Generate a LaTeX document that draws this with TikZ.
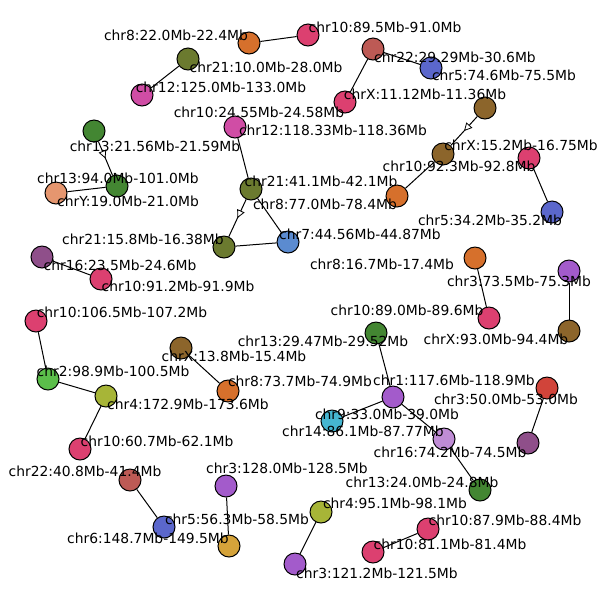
\documentclass[tikz,border=0pt]{standalone}
\usepackage{fontspec}
\setmainfont{DejaVu Sans}
\usetikzlibrary{arrows.meta, decorations.markings}

\definecolor{olive21}{HTML}{6B7A2F}
\definecolor{orange8}{HTML}{D6702C}
\definecolor{crimson10}{HTML}{DC4070}
\definecolor{magenta12}{HTML}{D04DA5}
\definecolor{brick22}{HTML}{BD5A55}
\definecolor{blue5}{HTML}{5B67CC}
\definecolor{brownX}{HTML}{8C652B}
\definecolor{green13}{HTML}{438632}
\definecolor{salmonY}{HTML}{E5966F}
\definecolor{steel7}{HTML}{5B8BD0}
\definecolor{plum16}{HTML}{8F4F8A}
\definecolor{violet3}{HTML}{A35BCB}
\definecolor{lime2}{HTML}{5BBE4A}
\definecolor{yellow4}{HTML}{A7B537}
\definecolor{red3}{HTML}{D1443A}
\definecolor{cyan9}{HTML}{45B6D1}
\definecolor{lilac14}{HTML}{BF8CD5}
\definecolor{gold6}{HTML}{D5A33A}

\tikzset{
  region/.style={circle, draw=black, line width=0.75pt, minimum size=16.5pt, inner sep=0pt, fill=#1},
  lbl/.style={inner sep=0pt, font=\fontsize{10.4}{12}\selectfont},
  link/.style={line width=0.75pt},
  dirlink/.style={line width=0.75pt, decoration={markings,
      mark=at position 0.5 with {\arrow{Triangle[fill=white, length=6pt, width=6pt, line width=0.6pt]}}},
      postaction={decorate}}
}

\begin{document}
\begin{tikzpicture}[x=0.75pt, y=-0.75pt]
\useasboundingbox (0,0) rectangle (605,601);
% regions
\node[region=olive21] (c21a) at (188,59) {};
\node[region=orange8] (c8a) at (249,43) {};
\node[region=crimson10] (c10a) at (308,35) {};
\node[region=magenta12] (c12a) at (142,95) {};
\node[region=brick22] (c22a) at (373,49) {};
\node[region=blue5] (c5a) at (431,68) {};
\node[region=crimson10] (c10b) at (345,102) {};
\node[region=brownX] (cXa) at (485,108) {};
\node[region=green13] (c13a) at (94,131) {};
\node[region=magenta12] (c12b) at (235,127) {};
\node[region=brownX] (cXb) at (443,154) {};
\node[region=crimson10] (c10c) at (529,158) {};
\node[region=green13] (c13b) at (117,186) {};
\node[region=salmonY] (cY) at (56,193) {};
\node[region=olive21] (c21b) at (251,189) {};
\node[region=orange8] (c8b) at (397,196) {};
\node[region=blue5] (c5b) at (552,212) {};
\node[region=olive21] (c21c) at (224,247) {};
\node[region=steel7] (c7) at (288,242) {};
\node[region=plum16] (c16a) at (42,257) {};
\node[region=crimson10] (c10d) at (101,279) {};
\node[region=orange8] (c8c) at (475,258) {};
\node[region=violet3] (c3a) at (569,271) {};
\node[region=crimson10] (c10e) at (489,318) {};
\node[region=brownX] (cXc) at (569,331) {};
\node[region=crimson10] (c10f) at (36,321) {};
\node[region=green13] (c13c) at (376,333) {};
\node[region=brownX] (cXd) at (181,348) {};
\node[region=lime2] (c2) at (48,379) {};
\node[region=yellow4] (c4a) at (106,396) {};
\node[region=orange8] (c8d) at (228,391) {};
\node[region=violet3] (c1) at (393,397) {};
\node[region=red3] (c3b) at (547,388) {};
\node[region=cyan9] (c9) at (332,421) {};
\node[region=lilac14] (c14) at (444,439) {};
\node[region=crimson10] (c10g) at (80,449) {};
\node[region=plum16] (c16b) at (528,443) {};
\node[region=brick22] (c22b) at (130,480) {};
\node[region=violet3] (c3c) at (226,486) {};
\node[region=green13] (c13d) at (480,490) {};
\node[region=yellow4] (c4b) at (321,512) {};
\node[region=blue5] (c5c) at (164,527) {};
\node[region=crimson10] (c10h) at (428,529) {};
\node[region=gold6] (c6) at (229,546) {};
\node[region=crimson10] (c10i) at (373,552) {};
\node[region=violet3] (c3d) at (295,564) {};
% links
\draw[link] (c21a) -- (c12a);
\draw[link] (c8a) -- (c10a);
\draw[link] (c22a) -- (c5a);
\draw[link] (c22a) -- (c10b);
\draw[dirlink] (cXa) -- (cXb);
\draw[link] (cXb) -- (c8b);
\draw[dirlink] (c13a) -- (c13b);
\draw[link] (c13b) -- (cY);
\draw[link] (c12b) -- (c21b);
\draw[link] (c21b) -- (c7);
\draw[dirlink] (c21b) -- (c21c);
\draw[link] (c21c) -- (c7);
\draw[link] (c10c) -- (c5b);
\draw[link] (c16a) -- (c10d);
\draw[link] (c8c) -- (c10e);
\draw[link] (c3a) -- (cXc);
\draw[link] (c10f) -- (c2);
\draw[link] (c2) -- (c4a);
\draw[link] (c4a) -- (c10g);
\draw[link] (cXd) -- (c8d);
\draw[link] (c13c) -- (c1);
\draw[link] (c1) -- (c9);
\draw[link] (c1) -- (c14);
\draw[link] (c14) -- (c13d);
\draw[link] (c3b) -- (c16b);
\draw[link] (c22b) -- (c5c);
\draw[link] (c3c) -- (c6);
\draw[link] (c4b) -- (c3d);
\draw[link] (c10h) -- (c10i);
% labels
\node[lbl] (t8a) at (176,35) {chr8:22.0Mb-22.4Mb};
\node[lbl] (t21a) at (266,67) {chr21:10.0Mb-28.0Mb};
\node[lbl] (t12a) at (221,87) {chr12:125.0Mb-133.0Mb};
\node[lbl] (t10a) at (385,27) {chr10:89.5Mb-91.0Mb};
\node[lbl] (t22a) at (455,57) {chr22:29.29Mb-30.6Mb};
\node[lbl] (t5a) at (504,75) {chr5:74.6Mb-75.5Mb};
\node[lbl] (tXa) at (425,94) {chrX:11.12Mb-11.36Mb};
\node[lbl] (t10b) at (259,112) {chr10:24.55Mb-24.58Mb};
\node[lbl] (t12b) at (333,130) {chr12:118.33Mb-118.36Mb};
\node[lbl] (t13a) at (155,146) {chr13:21.56Mb-21.59Mb};
\node[lbl] (tXb) at (521,145) {chrX:15.2Mb-16.75Mb};
\node[lbl] (t13b) at (118,178) {chr13:94.0Mb-101.0Mb};
\node[lbl] (t10c) at (459,166) {chr10:92.3Mb-92.8Mb};
\node[lbl] (t21b) at (321,181) {chr21:41.1Mb-42.1Mb};
\node[lbl] (tY) at (128,201) {chrY:19.0Mb-21.0Mb};
\node[lbl] (t8b) at (325,204) {chr8:77.0Mb-78.4Mb};
\node[lbl] (t5b) at (490,220) {chr5:34.2Mb-35.2Mb};
\node[lbl] (t7) at (360,234) {chr7:44.56Mb-44.87Mb};
\node[lbl] (t21c) at (143,239) {chr21:15.8Mb-16.38Mb};
\node[lbl] (t8c) at (382,264) {chr8:16.7Mb-17.4Mb};
\node[lbl] (t16a) at (120,265) {chr16:23.5Mb-24.6Mb};
\node[lbl] (t3a) at (519,281) {chr3:73.5Mb-75.3Mb};
\node[lbl] (t10d) at (178,286) {chr10:91.2Mb-91.9Mb};
\node[lbl] (tXc) at (496,339) {chrX:93.0Mb-94.4Mb};
\node[lbl] (t10e) at (407,310) {chr10:89.0Mb-89.6Mb};
\node[lbl] (t10f) at (122,312) {chr10:106.5Mb-107.2Mb};
\node[lbl] (t13c) at (323,341) {chr13:29.47Mb-29.52Mb};
\node[lbl] (tXd) at (234,356) {chrX:13.8Mb-15.4Mb};
\node[lbl] (t1) at (454,380) {chr1:117.6Mb-118.9Mb};
\node[lbl] (t2) at (113,371) {chr2:98.9Mb-100.5Mb};
\node[lbl] (t8d) at (300,381) {chr8:73.7Mb-74.9Mb};
\node[lbl] (t3b) at (506,399) {chr3:50.0Mb-53.0Mb};
\node[lbl] (t4a) at (188,404) {chr4:172.9Mb-173.6Mb};
\node[lbl] (t9) at (387,414) {chr9:33.0Mb-39.0Mb};
\node[lbl] (t14) at (363,431) {chr14:86.1Mb-87.77Mb};
\node[lbl] (t10g) at (157,441) {chr10:60.7Mb-62.1Mb};
\node[lbl] (t16b) at (450,452) {chr16:74.2Mb-74.5Mb};
\node[lbl] (t22b) at (85,471) {chr22:40.8Mb-41.4Mb};
\node[lbl] (t3c) at (287,468) {chr3:128.0Mb-128.5Mb};
\node[lbl] (t13d) at (422,482) {chr13:24.0Mb-24.8Mb};
\node[lbl] (t4b) at (395,503) {chr4:95.1Mb-98.1Mb};
\node[lbl] (t5c) at (237,519) {chr5:56.3Mb-58.5Mb};
\node[lbl] (t10h) at (505,520) {chr10:87.9Mb-88.4Mb};
\node[lbl] (t6) at (148,538) {chr6:148.7Mb-149.5Mb};
\node[lbl] (t10i) at (450,544) {chr10:81.1Mb-81.4Mb};
\node[lbl] (t3d) at (377,573) {chr3:121.2Mb-121.5Mb};
\end{tikzpicture}
\end{document}
